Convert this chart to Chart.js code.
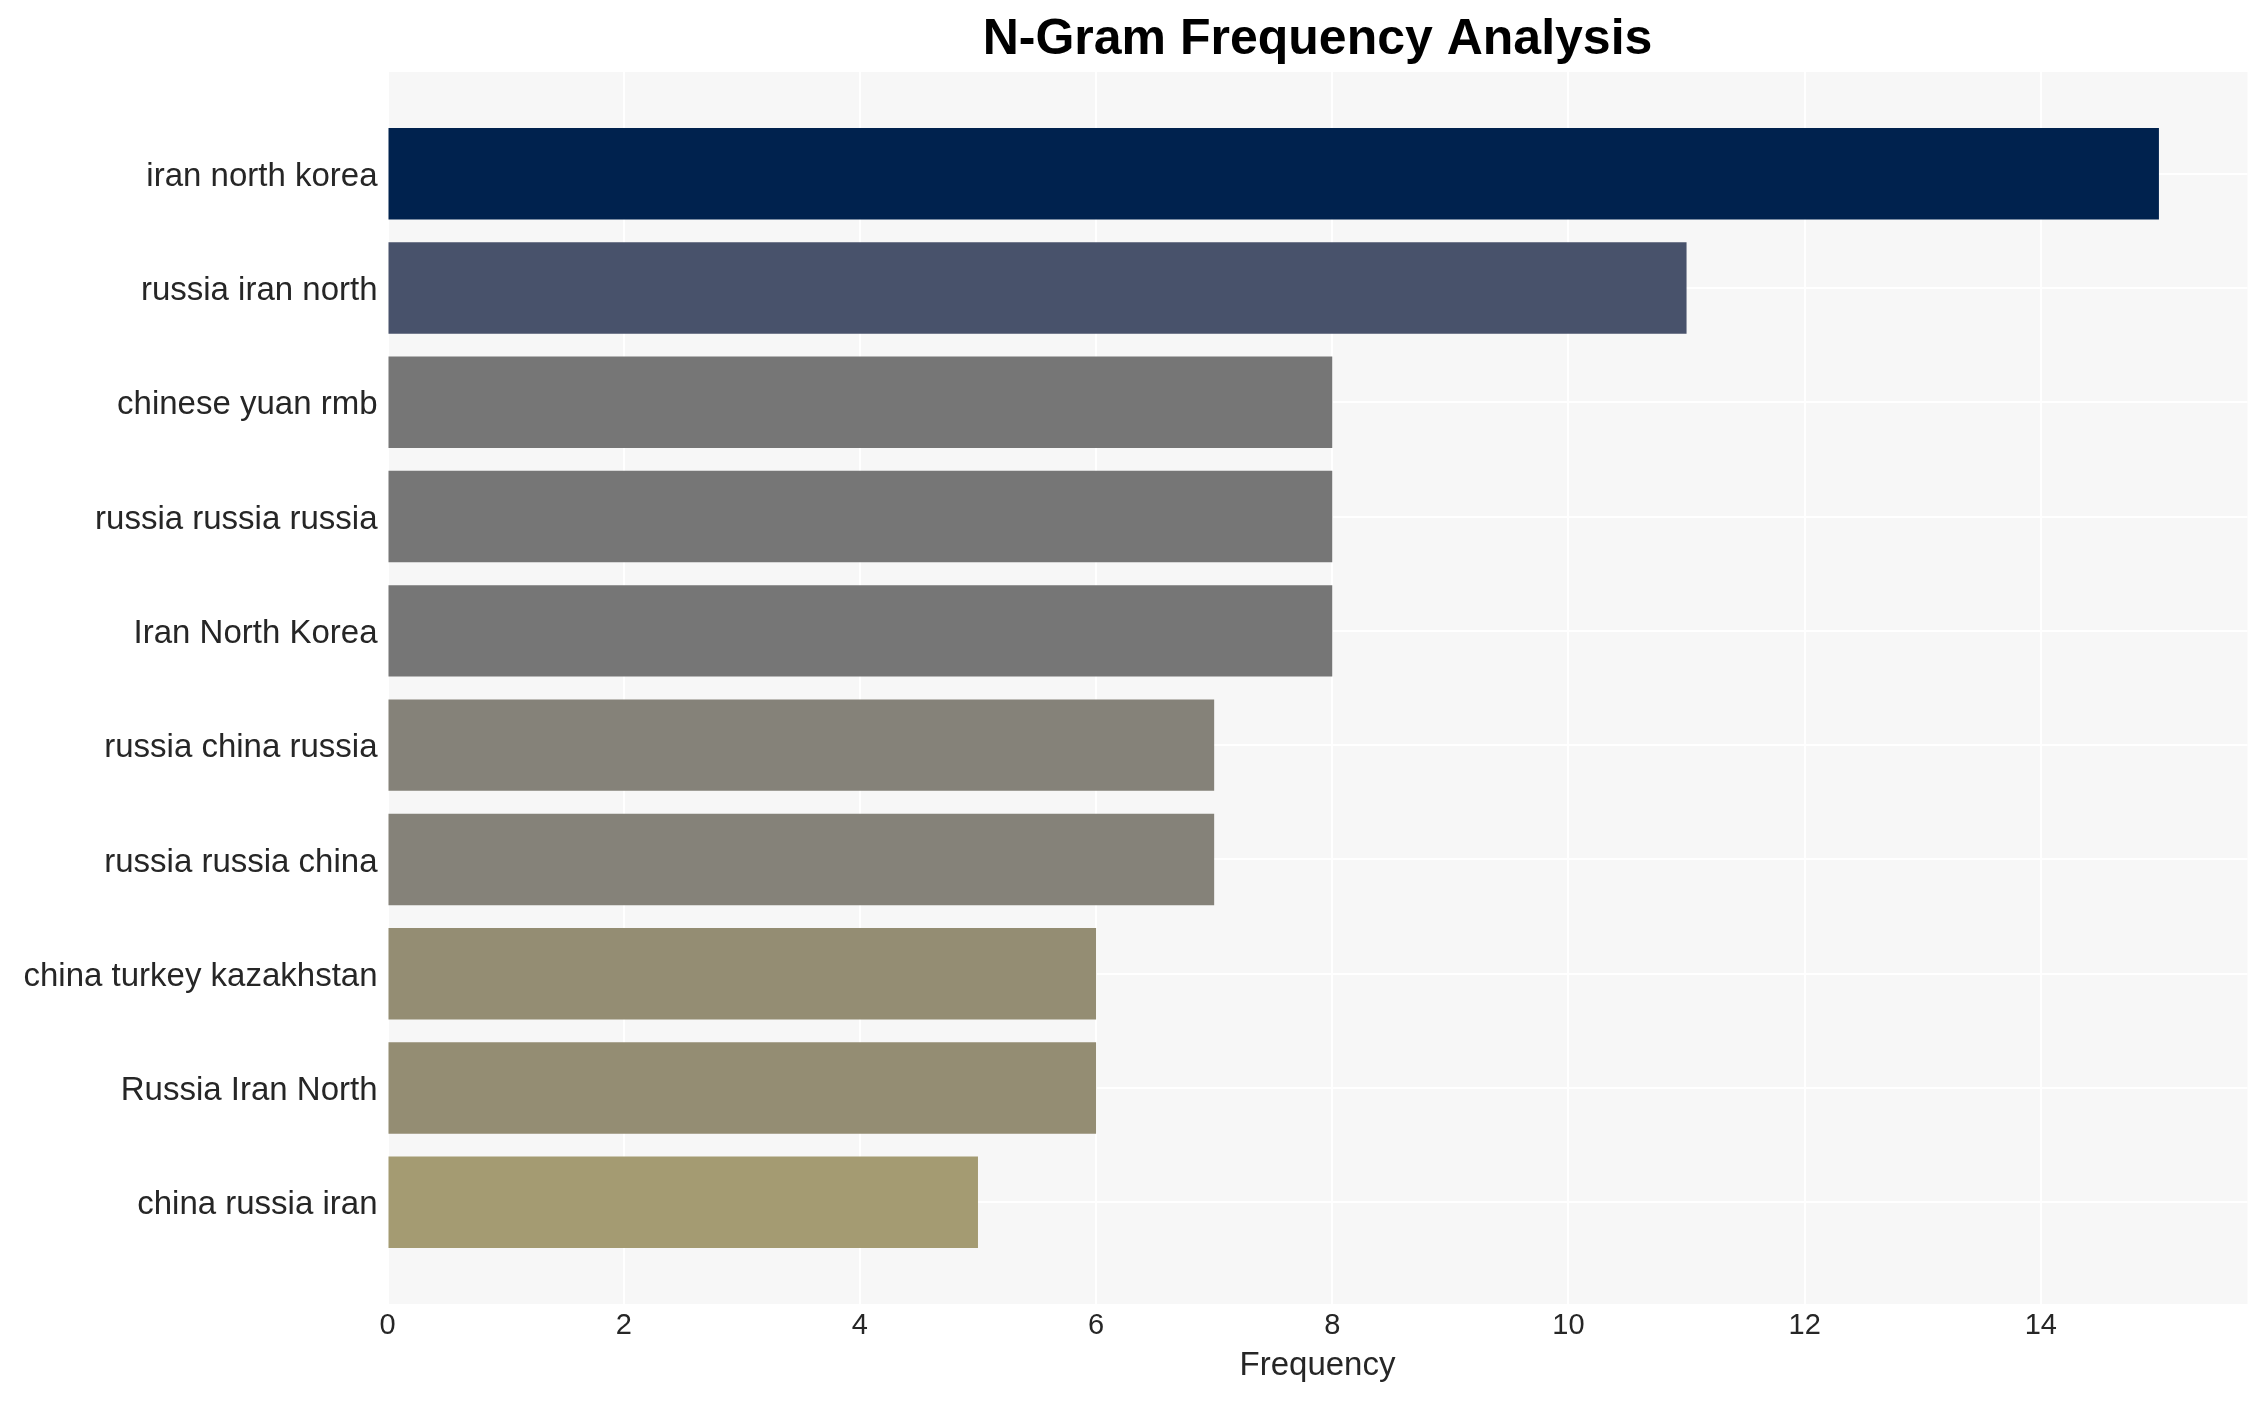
<!DOCTYPE html>
<html>
<head>
<meta charset="utf-8">
<script src="https://cdn.jsdelivr.net/npm/chart.js@4"></script>
<style>
html,body{margin:0;padding:0;background:#fff;}
#wrap{width:2267px;height:1402px;}
</style>
</head>
<body>
<div id="wrap"><canvas id="c" width="2267" height="1402"></canvas></div>
<script>
const categories = ["iran north korea","russia iran north","chinese yuan rmb","russia russia russia","Iran North Korea","russia china russia","russia russia china","china turkey kazakhstan","Russia Iran North","china russia iran"];
const frequencies = [15, 11, 8, 8, 8, 7, 7, 6, 6, 5];
const barColors = ["#00224e","#48526b","#767676","#767676","#767676","#858279","#858279","#948d73","#948d73","#a49b72"];
const xTicks = [0, 2, 4, 6, 8, 10, 12, 14];
const titleText = "N-Gram Frequency Analysis";
const xLabel = "Frequency";

const FONT = "'Liberation Sans', Arial, sans-serif";

const bgPlugin = {
  id: 'bg',
  beforeDraw(chart) {
    const {ctx, chartArea: a} = chart;
    ctx.save();
    ctx.fillStyle = '#f7f7f7';
    ctx.fillRect(a.left, a.top, a.right - a.left, a.bottom - a.top);
    ctx.restore();
  }
};

new Chart(document.getElementById('c'), {
  type: 'bar',
  data: {
    datasets: [{
      data: frequencies.map((v, i) => ({x: v, y: i})),
      backgroundColor: barColors,
      borderWidth: 0,
      barPercentage: 0.8,
      categoryPercentage: 1.0
    }]
  },
  options: {
    indexAxis: 'y',
    responsive: false,
    animation: false,
    devicePixelRatio: 1,
    layout: {padding: {left: 0, right: 19.5, top: 0, bottom: 0}},
    plugins: {
      legend: {display: false},
      tooltip: {enabled: false},
      title: {
        display: true,
        text: titleText,
        fullSize: false,
        color: '#000',
        font: {family: FONT, size: 50, weight: 'bold', lineHeight: 1.2},
        padding: {top: 10, bottom: 2}
      }
    },
    scales: {
      x: {
        type: 'linear',
        min: 0,
        max: 15.75,
        offset: false,
        afterBuildTicks: (axis) => { axis.ticks = xTicks.map(v => ({value: v})); },
        afterFit: (axis) => { axis.height = 98; },
        grid: {color: '#ffffff', lineWidth: 2, drawTicks: false, offset: false},
        border: {display: false},
        ticks: {
          color: '#262626',
          font: {family: FONT, size: 29},
          padding: 5,
          maxRotation: 0
        },
        title: {
          display: true,
          text: xLabel,
          color: '#262626',
          font: {family: FONT, size: 33},
          padding: {top: 0, bottom: 16}
        }
      },
      y: {
        type: 'linear',
        reverse: true,
        min: -0.89,
        max: 9.89,
        offset: false,
        afterBuildTicks: (axis) => { axis.ticks = categories.map((_, i) => ({value: i})); },
        afterFit: (axis) => { axis.width = 387.5; },
        grid: {color: '#ffffff', lineWidth: 2, drawTicks: false, offset: false},
        border: {display: false},
        ticks: {
          color: '#262626',
          font: {family: FONT, size: 33},
          padding: 10,
          labelOffset: 3,
          callback: (v) => categories[v] !== undefined ? categories[v] : ''
        }
      }
    }
  },
  plugins: [bgPlugin]
});
</script>
</body>
</html>
